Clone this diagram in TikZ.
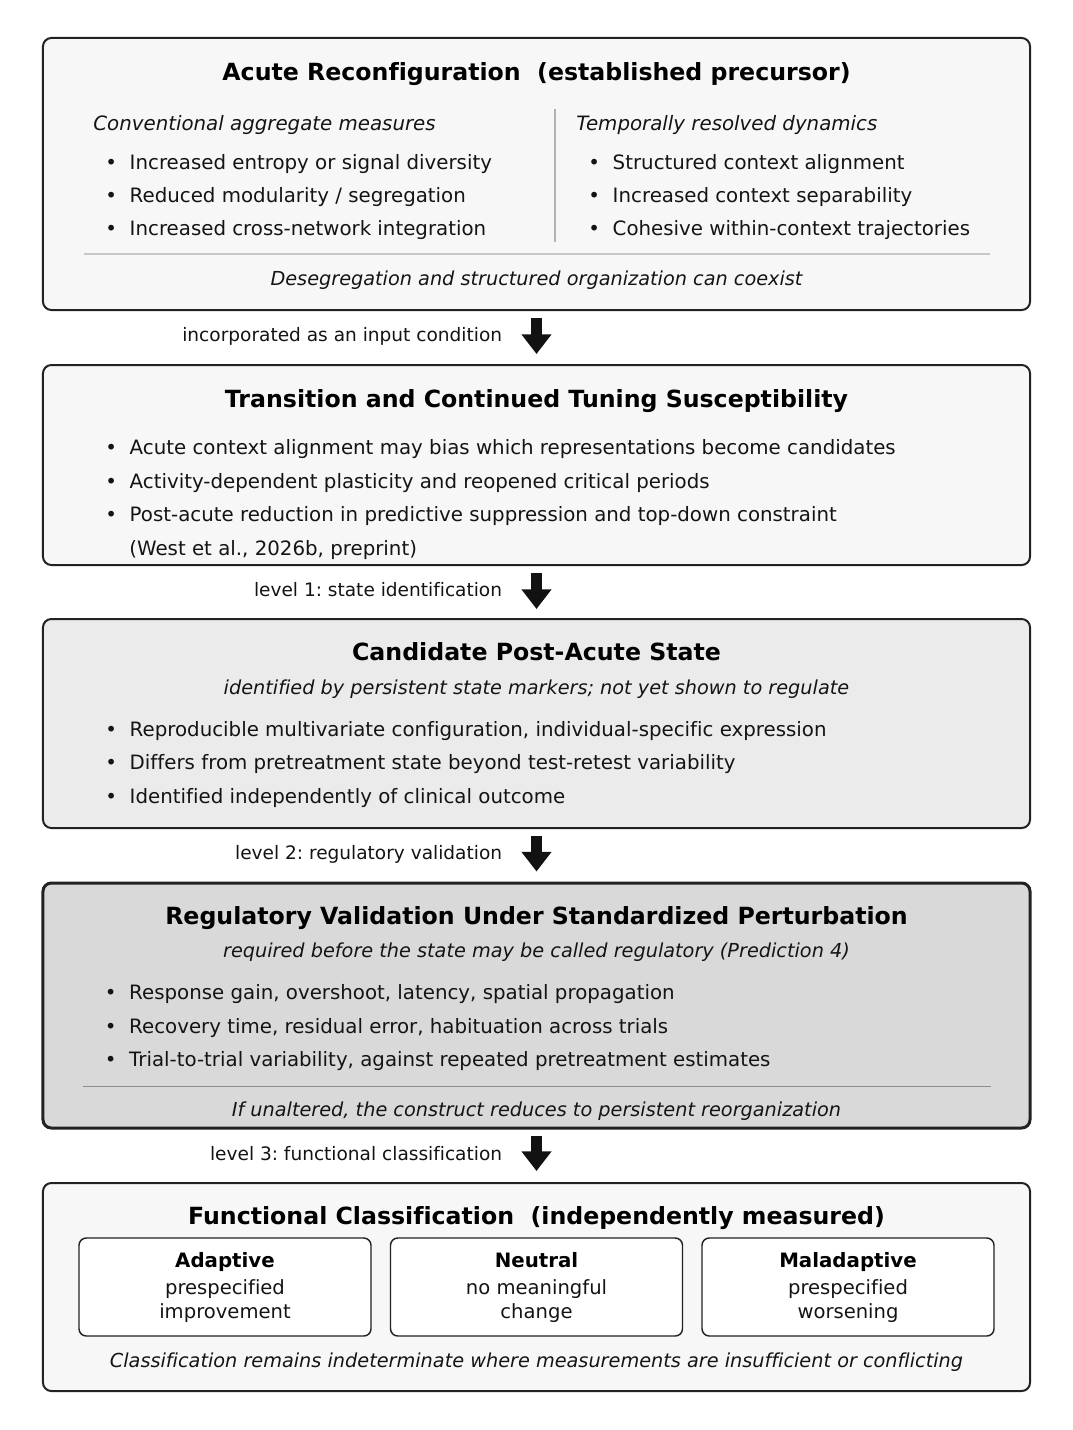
\documentclass[tikz,border=0pt]{standalone}
\usepackage{fontspec}
\setmainfont{DejaVu Sans}[Ligatures=NoCommon]
\usetikzlibrary{calc, positioning, arrows.meta}

\definecolor{panellight}{HTML}{F7F7F7}
\definecolor{panelmid}{HTML}{EBEBEB}
\definecolor{paneldark}{HTML}{D9D9D9}
\definecolor{inkline}{HTML}{222222}

\frenchspacing

\begin{document}
\begin{tikzpicture}[x=0.48pt, y=-0.48pt]
    \tikzstyle{panel} = [rectangle, draw=inkline, line width=0.96pt, rounded corners=4pt,
        minimum width=473.76pt, inner sep=0pt]
    \tikzstyle{choice} = [rectangle, draw=inkline, line width=0.7pt, rounded corners=3.5pt,
        fill=white, minimum width=140.16pt, minimum height=47.04pt, inner sep=0pt]
    \tikzstyle{heading} = [font=\bfseries\fontsize{11.35}{13}\selectfont, inner sep=0pt,
        text height=0.72em, text depth=0pt]
    \tikzstyle{item} = [font=\fontsize{9.5}{12}\selectfont, anchor=west, inner sep=0pt,
        text height=0.72em, text depth=0pt, text=black!92]
    \tikzstyle{colhead} = [font=\itshape\fontsize{9.5}{12}\selectfont, anchor=west, inner sep=0pt,
        text height=0.72em, text depth=0pt, text=black!92]
    \tikzstyle{note} = [font=\itshape\fontsize{9.25}{12}\selectfont, inner sep=0pt,
        text height=0.72em, text depth=0pt, text=black!92]
    \tikzstyle{choicetext} = [font=\fontsize{9.4}{12}\selectfont, inner sep=0pt,
        text height=0.72em, text depth=0pt, text=black!92]
    \tikzstyle{choicehead} = [font=\bfseries\fontsize{9.5}{12}\selectfont, inner sep=0pt,
        text height=0.72em, text depth=0pt]
    \tikzstyle{levellabel} = [font=\fontsize{8.9}{11}\selectfont, anchor=east, inner sep=0pt,
        text height=0.72em, text depth=0pt, text=black!92]
    \tikzstyle{flow} = [line width=5.3pt, draw=black!93,
        -{Triangle[width=13.8pt, length=9.4pt]}]

    \useasboundingbox (0, 0) rectangle (1073, 1430);

    % Acute reconfiguration ------------------------------
    \node (acute) at (536.5, 174) [panel, fill=panellight, minimum height=130.56pt] {};
    \node (acute_title) at ($(acute.north) + (0, 36)$) [heading]
        {Acute Reconfiguration\ \ (established precursor)};
    \node (convhead) at ($(acute.north west) + (51, 86)$) [colhead]
        {Conventional aggregate measures};
    \node (dynhead) at ($(acute.north west) + (534, 86)$) [colhead]
        {Temporally resolved dynamics};

    \node (conv1) at ($(acute.north west) + (63, 125)$) [item] {•\hspace{0.64em}Increased entropy or signal diversity};
    \node (conv2) at ($(conv1.west) + (0, 33)$) [item] {•\hspace{0.64em}Reduced modularity / segregation};
    \node (conv3) at ($(conv2.west) + (0, 33)$) [item] {•\hspace{0.64em}Increased cross-network integration};

    \node (dyn1) at ($(acute.north west) + (546, 125)$) [item] {•\hspace{0.64em}Structured context alignment};
    \node (dyn2) at ($(dyn1.west) + (0, 33)$) [item] {•\hspace{0.64em}Increased context separability};
    \node (dyn3) at ($(dyn2.west) + (0, 33)$) [item] {•\hspace{0.64em}Cohesive within-context trajectories};

    \draw [line width=0.7pt, black!30] ($(acute.north west) + (513, 72)$) -- ($(acute.north west) + (513, 205)$);
    \draw [line width=0.7pt, black!22] ($(acute.north west) + (42, 217)$) -- ($(acute.north east) + (-41, 217)$);
    \node (acute_note) at ($(acute.north) + (0, 241)$) [note]
        {Desegregation and structured organization can coexist};
    % ---------------------------------------------------

    % Transition and tuning ------------------------------
    \node (tuning) at (536.5, 465) [panel, fill=panellight, minimum height=96pt] {};
    \node (tuning_title) at ($(tuning.north) + (0, 36)$) [heading]
        {Transition and Continued Tuning Susceptibility};
    \node (tune1) at ($(tuning.north west) + (63, 83)$) [item] {•\hspace{0.64em}Acute context alignment may bias which representations become candidates};
    \node (tune2) at ($(tune1.west) + (0, 34)$) [item] {•\hspace{0.64em}Activity-dependent plasticity and reopened critical periods};
    \node (tune3) at ($(tune2.west) + (0, 33)$) [item] {•\hspace{0.64em}Post-acute reduction in predictive suppression and top-down constraint};
    \node (tune3b) at ($(tune3.west) + (24, 34)$) [item] {(West et al., 2026b, preprint)};

    % Candidate state ------------------------------------
    \node (candidate) at (536.5, 723.5) [panel, fill=panelmid, minimum height=100.32pt] {};
    \node (cand_title) at ($(candidate.north) + (0, 35)$) [heading] {Candidate Post-Acute State};
    \node (cand_sub) at ($(candidate.north) + (0, 69)$) [note]
        {identified by persistent state markers; not yet shown to regulate};
    \node (cand1) at ($(candidate.north west) + (63, 111)$) [item] {•\hspace{0.64em}Reproducible multivariate configuration, individual-specific expression};
    \node (cand2) at ($(cand1.west) + (0, 33)$) [item] {•\hspace{0.64em}Differs from pretreatment state beyond test-retest variability};
    \node (cand3) at ($(cand2.west) + (0, 34)$) [item] {•\hspace{0.64em}Identified independently of clinical outcome};

    % Regulatory validation ------------------------------
    \node (validation) at (536.5, 1005.5) [panel, fill=paneldark, line width=1.44pt, minimum height=117.6pt] {};
    \node (val_title) at ($(validation.north) + (0, 35)$) [heading]
        {Regulatory Validation Under Standardized Perturbation};
    \node (val_sub) at ($(validation.north) + (0, 68)$) [note]
        {required before the state may be called regulatory (Prediction 4)};
    \node (val1) at ($(validation.north west) + (63, 110)$) [item] {•\hspace{0.64em}Response gain, overshoot, latency, spatial propagation};
    \node (val2) at ($(val1.west) + (0, 34)$) [item] {•\hspace{0.64em}Recovery time, residual error, habituation across trials};
    \node (val3) at ($(val2.west) + (0, 33)$) [item] {•\hspace{0.64em}Trial-to-trial variability, against repeated pretreatment estimates};
    \draw [line width=0.7pt, black!45] ($(validation.north west) + (42, 205)$) -- ($(validation.north east) + (-41, 205)$);
    \node (val_note) at ($(validation.north) + (0, 227)$) [note]
        {If unaltered, the construct reduces to persistent reorganization};

    % Functional classification --------------------------
    \node (classes) at (536.5, 1287) [panel, fill=panellight, minimum height=99.84pt] {};
    \node (class_title) at ($(classes.north) + (0, 35)$) [heading]
        {Functional Classification\ \ (independently measured)};

    \node (adaptive) at ($(classes.center) + (-311.5, 0)$) [choice] {};
    \node (neutral) at (classes.center) [choice] {};
    \node (maladaptive) at ($(classes.center) + (311.5, 0)$) [choice] {};

    \node (adaptive_name) at ($(adaptive.north) + (0, 23)$) [choicehead] {Adaptive};
    \node at ($(adaptive_name) + (0, 27)$) [choicetext] {prespecified};
    \node at ($(adaptive_name) + (0, 51)$) [choicetext] {improvement};

    \node (neutral_name) at ($(neutral.north) + (0, 23)$) [choicehead] {Neutral};
    \node at ($(neutral_name) + (0, 27)$) [choicetext] {no meaningful};
    \node at ($(neutral_name) + (0, 51)$) [choicetext] {change};

    \node (maladaptive_name) at ($(maladaptive.north) + (0, 23)$) [choicehead] {Maladaptive};
    \node at ($(maladaptive_name) + (0, 27)$) [choicetext] {prespecified};
    \node at ($(maladaptive_name) + (0, 51)$) [choicetext] {worsening};

    \node (class_note) at ($(classes.north) + (0, 178)$) [note]
        {Classification remains indeterminate where measurements are insufficient or conflicting};

    % Levels ---------------------------------------------
    \draw [flow] ($(acute.south) + (0, 7)$) -- ($(tuning.north) + (0, -10)$);
    \draw [flow] ($(tuning.south) + (0, 7)$) -- ($(candidate.north) + (0, -9)$);
    \draw [flow] ($(candidate.south) + (0, 7)$) -- ($(validation.north) + (0, -10)$);
    \draw [flow] ($(validation.south) + (0, 6)$) -- ($(classes.north) + (0, -11)$);

    \node (input_label) at ($(acute.south) + (-34, 23)$) [levellabel] {incorporated as an input condition};
    \node (level1) at ($(tuning.south) + (-34, 23)$) [levellabel] {level 1: state identification};
    \node (level2) at ($(candidate.south) + (-34, 23)$) [levellabel] {level 2: regulatory validation};
    \node (level3) at ($(validation.south) + (-34, 23)$) [levellabel] {level 3: functional classification};
\end{tikzpicture}
\end{document}
